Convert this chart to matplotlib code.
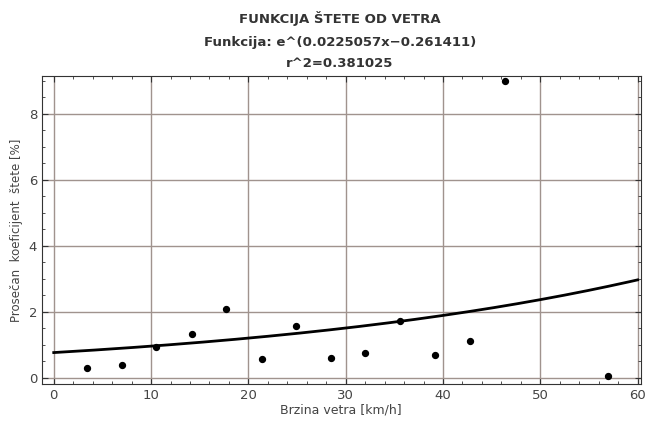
import numpy as np
import matplotlib.pyplot as plt
from matplotlib.ticker import MultipleLocator

# measured points (wind speed km/h, avg damage coefficient %)
brzina = [3.4, 7.0, 10.5, 14.2, 17.7, 21.4, 24.9, 28.5, 32.0, 35.6, 39.2, 42.8, 46.4, 57.0]
steta = [0.30, 0.38, 0.93, 1.32, 2.10, 0.57, 1.57, 0.60, 0.75, 1.72, 0.70, 1.12, 9.00, 0.05]

# fitted exponential e^(a*x + b)
a = 0.0225057
b = -0.261411

fig = plt.figure(figsize=(6.47, 4.21), dpi=100)
ax = fig.add_axes([0.065, 0.088, 0.925, 0.732])

xs = np.linspace(0, 60, 200)
ax.plot(xs, np.exp(a * xs + b), color="black", lw=2, zorder=3)
ax.scatter(brzina, steta, s=18, color="black", zorder=4)

ax.set_xlim(-1.2, 60.3)
ax.set_ylim(-0.18, 9.15)
ax.xaxis.set_major_locator(MultipleLocator(10))
ax.xaxis.set_minor_locator(MultipleLocator(2))
ax.yaxis.set_major_locator(MultipleLocator(2))
ax.yaxis.set_minor_locator(MultipleLocator(0.5))
ax.grid(True, which="major", color="#a0938e", lw=1)
ax.set_axisbelow(True)
ax.tick_params(which="both", direction="in", top=True, right=True, colors="#333333",
               labelsize=9.5, labelcolor="#444444")
ax.tick_params(which="major", length=4)
ax.tick_params(which="minor", length=2)
for s in ax.spines.values():
    s.set_color("#333333")

ax.set_xlabel("Brzina vetra [km/h]", fontsize=9, color="#444444", labelpad=1)
ax.set_ylabel("Prosečan  koeficijent  štete [%]", fontsize=8.5, color="#444444", labelpad=4)

fig.text(0.525, 0.955, "FUNKCIJA ŠTETE OD VETRA", ha="center", va="center",
         fontsize=9.5, fontweight="bold", color="#333333")
fig.text(0.525, 0.9, "Funkcija: e^(0.0225057x−0.261411)", ha="center", va="center",
         fontsize=9.5, fontweight="bold", color="#333333")
fig.text(0.525, 0.848, "r^2=0.381025", ha="center", va="center",
         fontsize=9.5, fontweight="bold", color="#333333")

fig.savefig("out.png", dpi=100)
